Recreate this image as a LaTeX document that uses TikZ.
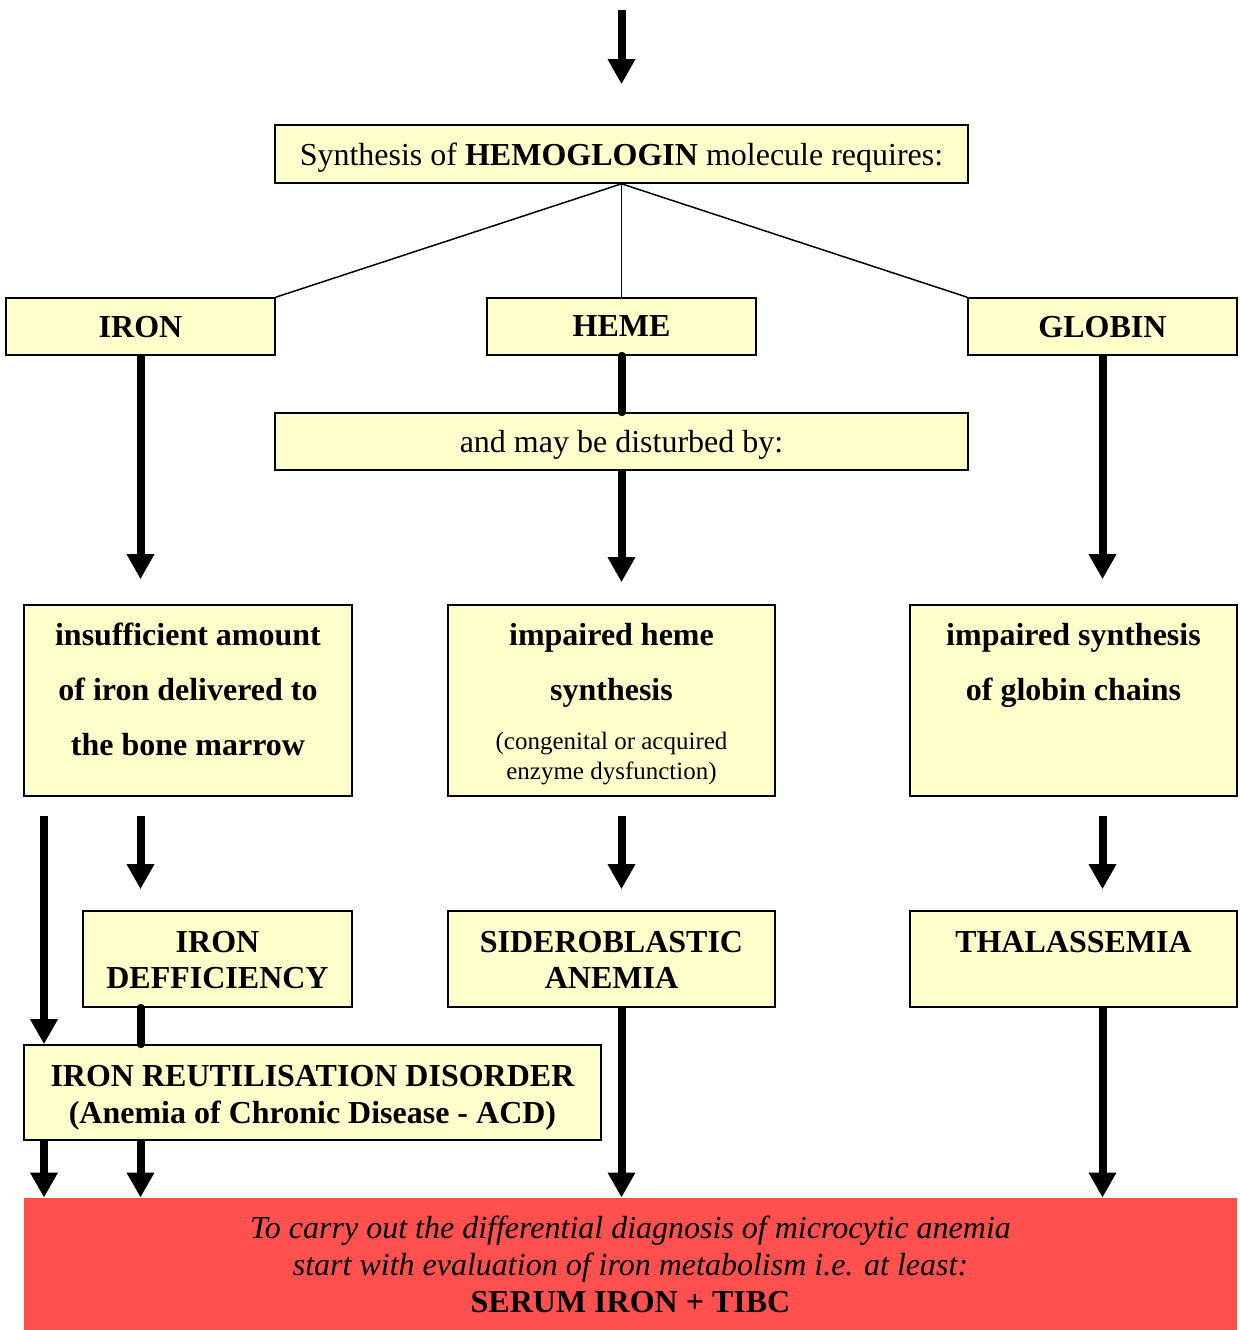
\documentclass[tikz,border=0pt]{standalone}
\usepackage{fontspec}
\setmainfont{Liberation Serif}
\usetikzlibrary{arrows.meta}
\definecolor{paleyellow}{HTML}{FFFFCC}
\definecolor{alertred}{HTML}{FF5050}
\begin{document}
\begin{tikzpicture}[
			x=0.5pt, y=-0.5pt,
			box/.style={rectangle, draw, fill=paleyellow, line width=0.8pt, inner sep=0pt},
			label/.style={anchor=north, align=center, inner sep=0pt, font=\bfseries\fontsize{16}{27.5}\selectfont},
			fat/.style={line width=4pt, line cap=round},
			fatarrow/.style={line width=4pt, -{Triangle[width=13pt,length=12.5pt]}}
		]
		\useasboundingbox (0,0) rectangle (1239,1330);

		% first level
		\coordinate (entry) at (621.5,10);
		\node[box, minimum width=346.5pt, minimum height=29pt, text depth=0pt, font=\fontsize{16}{19}\selectfont] (synth) at (621.5,154) {Synthesis of \textbf{HEMOGLOGIN} molecule requires:};
		\node[box, minimum width=134.5pt, minimum height=28.5pt, text depth=0pt, font=\bfseries\fontsize{16}{19}\selectfont] (iron) at (140.5,326.5) {IRON};
		\node[box, minimum width=134.5pt, minimum height=28.5pt, text depth=0pt, font=\bfseries\fontsize{16}{19}\selectfont] (heme) at (621.5,326.5) {HEME};
		\node[box, minimum width=134.5pt, minimum height=28.5pt, text depth=0pt, font=\bfseries\fontsize{16}{19}\selectfont] (globin) at (1102.5,326.5) {GLOBIN};
		\node[box, minimum width=346.5pt, minimum height=28.5pt, text depth=0pt, font=\fontsize{16}{19}\selectfont] (disturb) at (621.5,441.5) {and may be disturbed by:};

		% causes
		\node[box, minimum width=164pt, minimum height=95.5pt] (insuff) at (188,700.5) {};
		\node[box, minimum width=163.5pt, minimum height=95.5pt] (impheme) at (611.5,700.5) {};
		\node[box, minimum width=163.5pt, minimum height=95.5pt] (impglob) at (1073.5,700.5) {};
		\node[label] (insufftxt) at (188,623) {insufficient amount\\of iron delivered to\\the bone marrow};
		\node[label] (imphemetxt) at (611.5,623) {impaired heme\\synthesis};
		\node[label, font=\fontsize{12.5}{15}\selectfont] (hemenote) at (611.5,732) {(congenital or acquired\\enzyme dysfunction)};
		\node[label] (impglobtxt) at (1073.5,623) {impaired synthesis\\of globin chains};

		% anemias
		\node[box, minimum width=134.5pt, minimum height=48pt] (irondef) at (217.5,959) {};
		\node[box, minimum width=163.5pt, minimum height=48pt] (sidero) at (611.5,959) {};
		\node[box, minimum width=163.5pt, minimum height=48pt] (thal) at (1073.5,959) {};
		\node[label, font=\bfseries\fontsize{16}{18}\selectfont] (irondeftxt) at (217.5,931) {IRON\\DEFFICIENCY};
		\node[label, font=\bfseries\fontsize{16}{18}\selectfont] (siderotxt) at (611.5,931) {SIDEROBLASTIC\\ANEMIA};
		\node[label, font=\bfseries\fontsize{16}{18}\selectfont] (thaltxt) at (1073.5,931) {THALASSEMIA};
		\node[box, minimum width=288.5pt, minimum height=47.5pt] (acd) at (312.5,1092.5) {};
		\node[label, font=\bfseries\fontsize{16}{18.5}\selectfont] (acdtxt) at (312.5,1065) {IRON REUTILISATION DISORDER\\(Anemia of Chronic Disease - ACD)};

		% conclusion
		\node[rectangle, fill=alertred, minimum width=606.5pt, minimum height=66pt, inner sep=0pt] (diag) at (630.5,1264) {};
		\node[label, font=\itshape\fontsize{16}{18.5}\selectfont] (diagtxt) at (630.5,1216) {To carry out the differential diagnosis of microcytic anemia\\start with evaluation of iron metabolism i.e. at least:\\\textbf{\upshape SERUM IRON + TIBC}};

		\coordinate (leftcol) at (44,0);

		% connectors
		\draw[fatarrow, shorten >=20pt] (entry) -- (synth.north);
		\draw[line width=0.75pt] (synth.south) -- (iron.north east);
		\draw[line width=0.75pt] (synth.south) -- (heme.north);
		\draw[line width=0.75pt] (synth.south) -- (globin.north west);
		\draw[fat] (heme.south) -- (disturb.north);
		\draw[fatarrow, shorten >=12.5pt] (iron.south) -- (insuff.north -| iron.south);
		\draw[fatarrow, shorten >=11pt] (disturb.south) -- (impheme.north -| disturb.south);
		\draw[fatarrow, shorten >=12.5pt] (globin.south) -- (impglob.north -| globin.south);

		\draw[fatarrow, shorten <=9.5pt] (insuff.south -| leftcol) -- (acd.north -| leftcol);
		\draw[fatarrow, shorten <=9.5pt, shorten >=10.5pt] (insuff.south -| iron.south) -- (irondef.north -| iron.south);
		\draw[fatarrow, shorten <=9.5pt, shorten >=10.5pt] (impheme.south -| heme.south) -- (sidero.north -| heme.south);
		\draw[fatarrow, shorten <=9.5pt, shorten >=10.5pt] (impglob.south -| globin.south) -- (thal.north -| globin.south);
		\draw[fat] (irondef.south -| iron.south) -- (acd.north -| iron.south);

		\draw[fatarrow] (acd.south -| leftcol) -- (diag.north -| leftcol);
		\draw[fatarrow] (acd.south -| iron.south) -- (diag.north -| iron.south);
		\draw[fatarrow] (sidero.south -| heme.south) -- (diag.north -| heme.south);
		\draw[fatarrow] (thal.south -| globin.south) -- (diag.north -| globin.south);
	\end{tikzpicture}
\end{document}
